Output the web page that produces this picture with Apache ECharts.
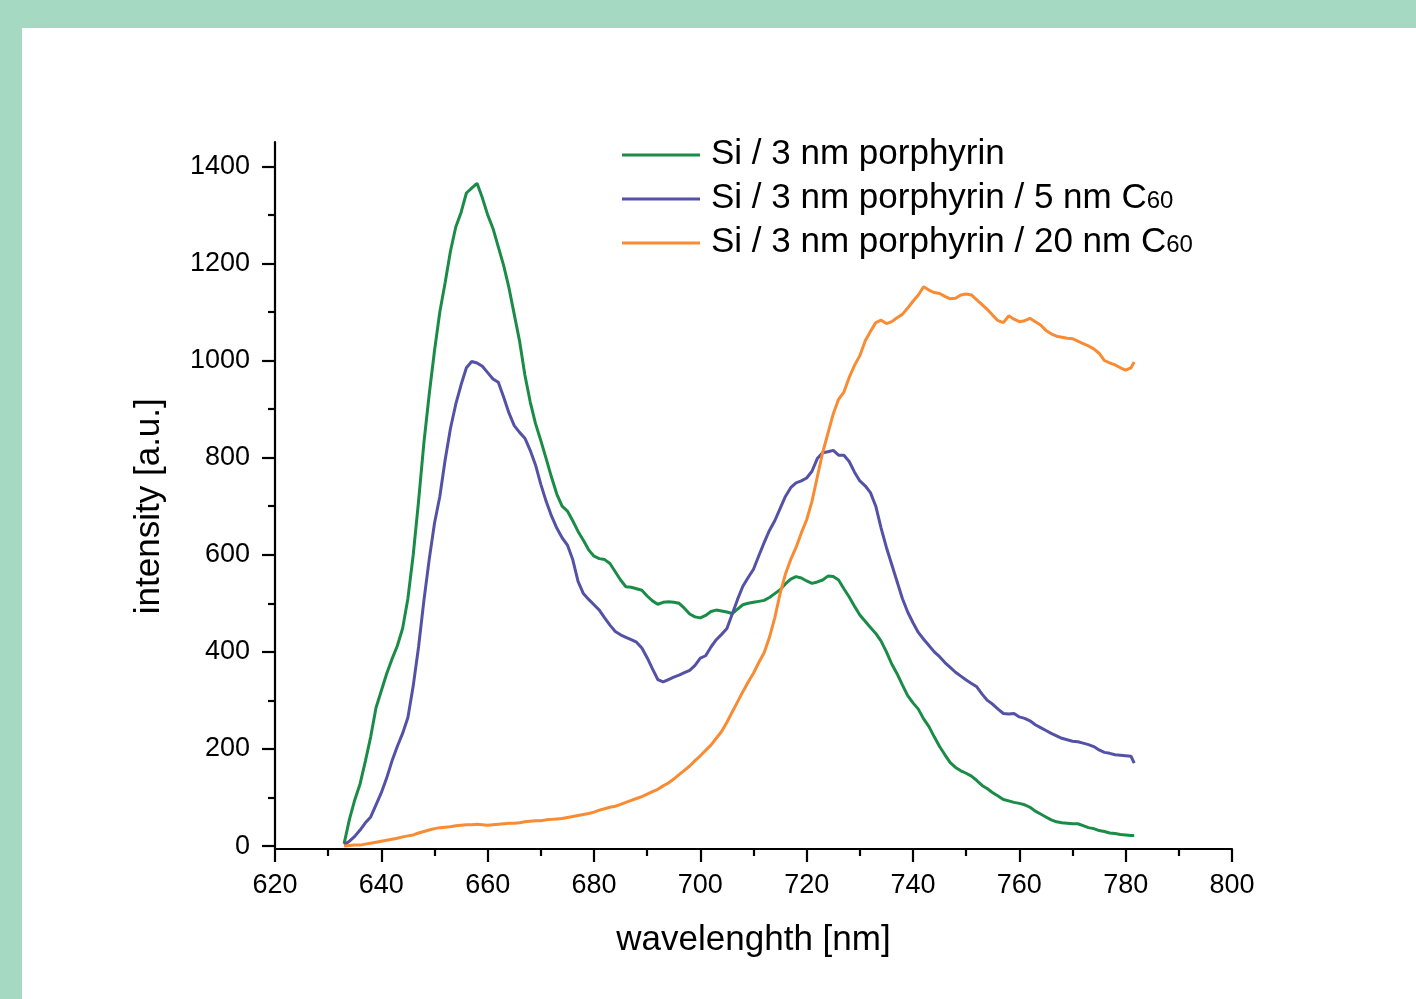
<!DOCTYPE html>
<html>
<head>
<meta charset="utf-8">
<script src="https://cdn.jsdelivr.net/npm/echarts@6/dist/echarts.min.js"></script>
<style>
  html, body { margin: 0; padding: 0; background: #a6d9c1; }
  #paper { position: absolute; left: 22px; top: 28px; width: 1394px; height: 971px; background: #ffffff; }
  #chart { position: absolute; left: 0; top: 0; width: 1416px; height: 999px; }
</style>
</head>
<body>
<div id="paper"></div>
<div id="chart"></div>
<script>
// wavelength samples [nm]
const wavelength = [
  633,634,635,636,637,638,639,640,641,642,643,644,645,646,647,648,649,650,651,652,
  653,654,655,656,657,658,659,660,661,662,663,664,665,666,667,668,669,670,671,672,
  673,674,675,676,677,678,679,680,681,682,683,684,685,686,687,688,689,690,691,692,
  693,694,695,696,697,698,699,700,701,702,703,704,705,706,707,708,709,710,711,712,
  713,714,715,716,717,718,719,720,721,722,723,724,725,726,727,728,729,730,731,732,
  733,734,735,736,737,738,739,740,741,742,743,744,745,746,747,748,749,750,751,752,
  753,754,755,756,757,758,759,760,761,762,763,764,765,766,767,768,769,770,771,772,
  773,774,775,776,777,778,779,780,781,781.6
];

// Si / 3 nm porphyrin
const intensityPorphyrin = [
  5,55,95,128,175,225,285,320,355,385,412,448,510,600,710,830,930,1020,1100,1160,
  1225,1275,1305,1345,1355,1365,1335,1300,1272,1234,1196,1150,1095,1040,970,915,870,835,798,760,
  725,700,690,670,648,630,610,597,592,590,582,565,548,534,533,530,527,515,505,498,
  502,503,502,500,490,478,472,470,475,483,486,484,482,479,488,497,500,502,504,506,
  512,520,528,540,550,555,552,546,541,544,548,556,555,548,530,513,494,476,463,450,
  438,422,400,375,355,332,310,295,282,262,246,225,205,188,172,162,155,150,144,135,
  125,118,110,103,96,93,90,88,85,80,72,66,60,54,50,48,47,46,46,42,
  38,36,32,30,27,26,24,23,22,22
];

// Si / 3 nm porphyrin / 5 nm C60
const intensityC60_5 = [
  3,10,20,33,48,60,85,110,140,175,205,232,265,330,410,505,590,665,720,795,
  860,910,950,985,998,995,988,975,962,955,925,892,866,852,840,815,785,745,710,680,
  655,635,620,590,545,520,508,497,486,470,455,442,435,430,425,420,408,388,365,343,
  338,343,348,352,357,362,372,387,392,410,425,436,448,478,508,535,553,570,598,625,
  650,670,695,720,738,748,752,758,772,798,810,812,815,805,805,792,770,752,742,728,
  700,655,615,580,545,510,482,460,440,426,413,400,390,378,368,358,350,342,335,328,
  313,300,292,282,273,272,273,266,263,258,250,244,238,232,227,222,219,216,215,212,
  209,205,198,193,191,188,187,186,185,171
];

// Si / 3 nm porphyrin / 20 nm C60
const intensityC60_20 = [
  0,1,2,2,4,6,8,10,12,14,16,19,21,23,27,30,33,36,38,39,
  40,42,43,44,44,45,44,43,44,45,46,47,47,48,50,51,52,52,54,55,
  56,57,59,61,63,65,67,70,74,77,80,82,86,90,94,98,102,107,112,117,
  124,130,138,147,156,165,176,186,197,208,222,236,255,276,297,318,338,356,378,398,
  430,470,520,560,590,615,645,672,710,760,810,850,890,920,935,965,990,1010,1040,1060,
  1078,1083,1076,1080,1088,1095,1108,1122,1135,1152,1145,1140,1138,1132,1127,1128,1135,1137,1135,1125,
  1115,1105,1093,1082,1078,1092,1085,1080,1082,1087,1080,1073,1062,1055,1050,1048,1046,1045,1040,1035,
  1030,1024,1015,1000,995,991,985,980,985,997
];

const seriesNames = [
  'Si / 3 nm porphyrin',
  'Si / 3 nm porphyrin / 5 nm C60',
  'Si / 3 nm porphyrin / 20 nm C60'
];
const seriesColors = ['#1b8c48', '#5352a6', '#f98b33'];
const seriesValues = [intensityPorphyrin, intensityC60_5, intensityC60_20];

const xTicks = { min: 620, max: 800, interval: 20 };
const yTicks = { min: 0, max: 1400, interval: 200 };

const FONT = '"Liberation Sans", Arial, sans-serif';
const chart = echarts.init(document.getElementById('chart'), null, { renderer: 'canvas' });

function pairs(vals) { return wavelength.map((w, i) => [w, vals[i]]); }

const axisLineStyle = { color: '#000', width: 2.2 };

const option = {
  backgroundColor: 'transparent',
  animation: false,
  grid: [
    { left: 275, right: 184, top: 142, bottom: 150, containLabel: false },
    { left: 275, right: 184, top: 166.3, bottom: 152.9, containLabel: false }
  ],
  xAxis: [
    {
      type: 'value', gridIndex: 0, min: xTicks.min, max: xTicks.max, interval: xTicks.interval,
      name: 'wavelenghth [nm]', nameLocation: 'middle', nameGap: 74,
      nameTextStyle: { fontFamily: FONT, fontSize: 35, color: '#000' },
      axisLine: { show: true, onZero: false, lineStyle: axisLineStyle },
      axisTick: { show: true, inside: false, length: 13, lineStyle: axisLineStyle },
      minorTick: { show: true, splitNumber: 2, length: 7, lineStyle: axisLineStyle },
      axisLabel: { fontFamily: FONT, fontSize: 27, color: '#000', margin: 23, formatter: v => String(v) },
      splitLine: { show: false }, minorSplitLine: { show: false }
    },
    {
      type: 'value', gridIndex: 1, min: xTicks.min, max: xTicks.max, show: false
    }
  ],
  yAxis: [
    {
      type: 'value', gridIndex: 0, min: -6, max: 1450,
      axisLine: { show: true, onZero: false, lineStyle: axisLineStyle },
      axisTick: { show: false }, axisLabel: { show: false },
      splitLine: { show: false }
    },
    {
      type: 'value', gridIndex: 1, min: yTicks.min, max: yTicks.max, interval: yTicks.interval,
      name: 'intensity [a.u.]', nameLocation: 'middle', nameGap: 108, nameRotate: 90,
      nameTextStyle: { fontFamily: FONT, fontSize: 35, color: '#000' },
      axisLine: { show: false },
      axisTick: { show: true, inside: false, length: 13, lineStyle: axisLineStyle },
      minorTick: { show: true, splitNumber: 2, length: 7, lineStyle: axisLineStyle },
      axisLabel: { fontFamily: FONT, fontSize: 27, color: '#000', margin: 25, formatter: v => String(v) },
      splitLine: { show: false }, minorSplitLine: { show: false }
    }
  ],
  legend: {
    orient: 'vertical', left: 622, top: 137, padding: 0,
    icon: 'rect',
    itemWidth: 78, itemHeight: 3, itemGap: 9,
    data: seriesNames,
    formatter: function (name) {
      if (name.endsWith('C60')) {
        return '{a|' + name.slice(0, -2) + '}{s|60}';
      }
      return '{a|' + name + '}';
    },
    textStyle: {
      fontFamily: FONT, fontSize: 35, color: '#000', padding: [0, 0, 0, 6],
      rich: {
        a: { fontFamily: FONT, fontSize: 35, color: '#000', verticalAlign: 'bottom', lineHeight: 34 },
        s: { fontFamily: FONT, fontSize: 24, color: '#000', verticalAlign: 'bottom', lineHeight: 34, padding: [0, 0, 3, 0] }
      }
    }
  },
  series: seriesValues.map((vals, i) => ({
    name: seriesNames[i],
    type: 'line',
    xAxisIndex: 0, yAxisIndex: 0,
    data: pairs(vals),
    symbol: 'none', showSymbol: false,
    smooth: false,
    lineStyle: { color: seriesColors[i], width: 3 },
    itemStyle: { color: seriesColors[i] },
    z: 2 + i
  }))
};

chart.setOption(option);
</script>
</body>
</html>
